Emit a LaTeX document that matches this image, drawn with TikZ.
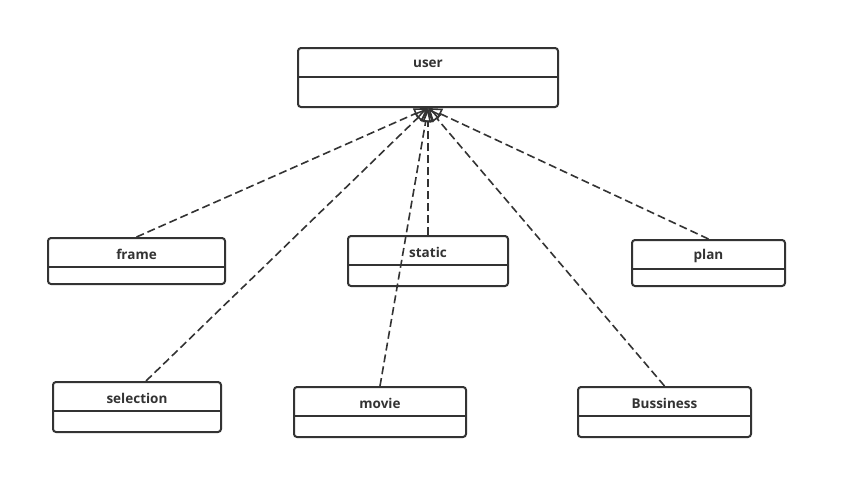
\documentclass[tikz,border=0pt]{standalone}
\usepackage{fontspec}
\setmainfont{Open Sans}
\usetikzlibrary{arrows.meta,calc}
\definecolor{ink}{HTML}{333333}
\tikzset{
  cls/.style={draw=ink, line width=2pt, rounded corners=3pt, fill=white, inner sep=0pt},
  divider/.style={draw=ink, line width=2pt},
  title/.style={text=ink, font=\fontsize{13.5}{16}\selectfont\bfseries},
  realize/.style={draw=ink, line width=1.6pt, dash pattern=on 8pt off 4pt,
    -{Triangle[open, length=14pt, width=11pt]}},
}

\begin{document}
\begin{tikzpicture}[x=1pt,y=-1pt]
        \fill[white] (0,0) rectangle (847,499);
        \useasboundingbox (0,0) rectangle (847,499);

        % super class
        \node[cls, minimum width=260pt, minimum height=59pt] (user) at (428,77.5) {};
        \draw[divider] ($(user.north west)+(0,30)$) -- ($(user.north east)+(0,30)$);
        \node[title] (userT) at ($(user.north)+(0,17)$) {user};

        % first row
        \node[cls, minimum width=177pt, minimum height=46pt] (frame) at (136.5,261) {};
        \draw[divider] ($(frame.north west)+(0,30)$) -- ($(frame.north east)+(0,30)$);
        \node[title] (frameT) at ($(frame.north)+(0,17)$) {frame};

        \node[cls, minimum width=160pt, minimum height=50pt] (static) at (428,261) {};
        \draw[divider] ($(static.north west)+(0,30)$) -- ($(static.north east)+(0,30)$);
        \node[title] (staticT) at ($(static.north)+(0,17)$) {static};

        \node[cls, minimum width=153pt, minimum height=46pt] (plan) at (708.5,263) {};
        \draw[divider] ($(plan.north west)+(0,30)$) -- ($(plan.north east)+(0,30)$);
        \node[title] (planT) at ($(plan.north)+(0,17)$) {plan};

        % second row
        \node[cls, minimum width=168pt, minimum height=50pt] (selection) at (137,407) {};
        \draw[divider] ($(selection.north west)+(0,30)$) -- ($(selection.north east)+(0,30)$);
        \node[title] (selectionT) at ($(selection.north)+(0,17)$) {selection};

        \node[cls, minimum width=172pt, minimum height=50pt] (movie) at (380,412) {};
        \draw[divider] ($(movie.north west)+(0,30)$) -- ($(movie.north east)+(0,30)$);
        \node[title] (movieT) at ($(movie.north)+(0,17)$) {movie};

        \node[cls, minimum width=173pt, minimum height=50pt] (bussiness) at (664.5,412) {};
        \draw[divider] ($(bussiness.north west)+(0,30)$) -- ($(bussiness.north east)+(0,30)$);
        \node[title] (bussinessT) at ($(bussiness.north)+(0,17)$) {Bussiness};

        % realizations
        \draw[realize] (frame.north) -- (user.south);
        \draw[realize] (static.north) -- (user.south);
        \draw[realize] (plan.north) -- (user.south);
        \draw[realize] ($(selection.north)+(9,0)$) -- (user.south);
        \draw[realize] (movie.north) -- (user.south);
        \draw[realize] (bussiness.north) -- (user.south);
      \end{tikzpicture}
\end{document}
